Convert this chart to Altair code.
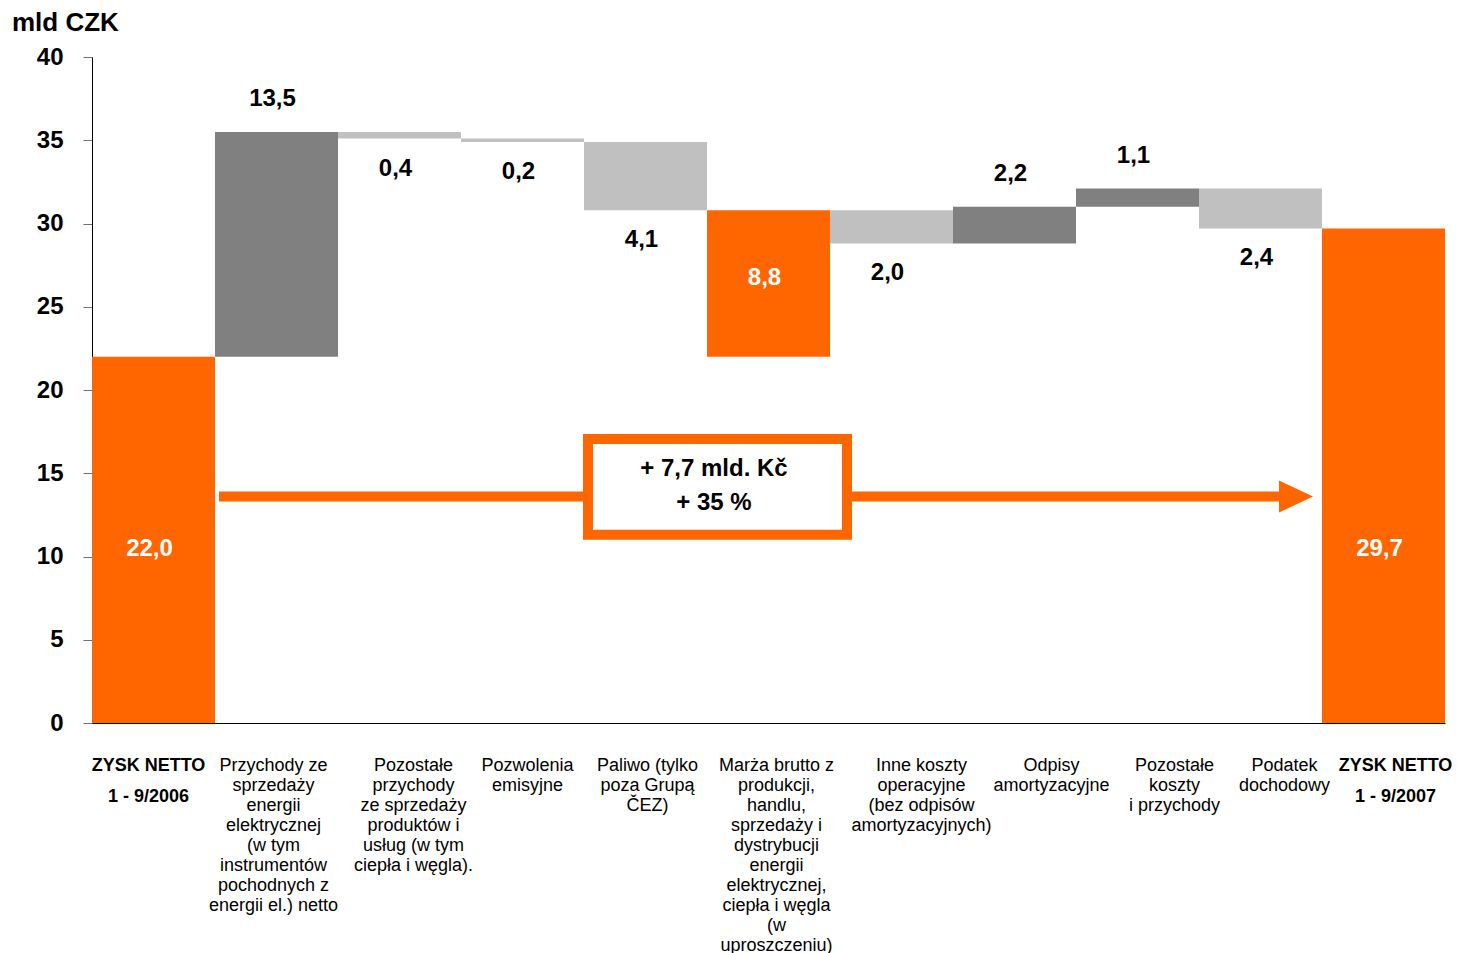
import altair as alt
import pandas as pd

# ---- data ----
categories = ["zn2006", "przychody_ee", "pozostale_przych", "pozwolenia", "paliwo",
              "marza", "inne_koszty", "odpisy", "pozostale_koszty", "podatek", "zn2007"]
label_lines = [
    ["ZYSK NETTO", "1 - 9/2006"],
    ["Przychody ze", "sprzedaży", "energii", "elektrycznej", "(w tym", "instrumentów",
     "pochodnych z", "energii el.) netto"],
    ["Pozostałe", "przychody", "ze sprzedaży", "produktów i", "usług (w tym", "ciepła i węgla)."],
    ["Pozwolenia", "emisyjne"],
    ["Paliwo (tylko", "poza Grupą", "ČEZ)"],
    ["Marża brutto z", "produkcji,", "handlu,", "sprzedaży i", "dystrybucji", "energii",
     "elektrycznej,", "ciepła i węgla", "(w", "uproszczeniu)"],
    ["Inne koszty", "operacyjne", "(bez odpisów", "amortyzacyjnych)"],
    ["Odpisy", "amortyzacyjne"],
    ["Pozostałe", "koszty", "i przychody"],
    ["Podatek", "dochodowy"],
    ["ZYSK NETTO", "1 - 9/2007"],
]
starts = [0.0, 22.0, 35.5, 35.1, 34.9, 22.0, 30.8, 28.8, 31.0, 32.1, 0.0]
ends = [22.0, 35.5, 35.1, 34.9, 30.8, 30.8, 28.8, 31.0, 32.1, 29.7, 29.7]
kinds = ["total", "up", "down", "down", "down", "sub", "down", "up", "up", "down", "total"]
value_labels = ["22,0", "13,5", "0,4", "0,2", "4,1", "8,8", "2,0", "2,2", "1,1", "2,4", "29,7"]

arrow_value = [13.6]
box_top = [17.05]
box_bottom = [11.3]
box_lines = ["+ 7,7 mld. Kč", "+ 35 %"]
y_title = "mld CZK"

# ---- layout / style ----
FONT = "Liberation Sans"
ORANGE = "#FF6600"
DARK = "#808080"
LIGHT = "#C0C0C0"
W, H = 1353, 666
label_dx = [-5, -3, 14, 5, 2, 8, 30, 37, 37, 24, 12]

df = pd.DataFrame({
    "cat": categories,
    "lines": label_lines,
    "start": starts,
    "end": ends,
    "kind": kinds,
    "vlabel": value_labels,
})

x_enc = alt.X("cat:N", sort=categories,
              scale=alt.Scale(paddingInner=0, paddingOuter=0),
              axis=alt.Axis(labels=False, ticks=False, title=None,
                            domainColor="black", domainWidth=1))

base = alt.Chart(df)

bars = base.mark_bar(cornerRadius=0).encode(
    x=x_enc,
    y=alt.Y("start:Q", scale=alt.Scale(domain=[0, 40], nice=False),
            axis=alt.Axis(values=list(range(0, 41, 5)), title=None, grid=False,
                          labelFontSize=24, labelFontWeight="bold", labelColor="black",
                          labelFont=FONT, labelPadding=20, tickSize=9,
                          tickColor="#707070", domainColor="black", domainWidth=1)),
    y2="end:Q",
    color=alt.Color("kind:N", scale=alt.Scale(domain=["total", "sub", "up", "down"],
                                              range=[ORANGE, ORANGE, DARK, LIGHT]),
                    legend=None),
)

vfont = dict(font=FONT, fontSize=24, fontWeight="bold", baseline="middle", dx=-4)
above = base.transform_filter(alt.datum.kind == "up").mark_text(
    color="black", dy=-33, **vfont).encode(x=x_enc, y=alt.Y("end:Q", title=None), text="vlabel:N")
below = base.transform_filter(alt.datum.kind == "down").mark_text(
    color="black", dy=30, **vfont).encode(x=x_enc, y=alt.Y("end:Q", title=None), text="vlabel:N")
totals = base.transform_filter(alt.datum.kind == "total").mark_text(
    color="white", dy=-174, **vfont).encode(x=x_enc, y=alt.Y("start:Q", title=None), text="vlabel:N")
sub = base.transform_filter(alt.datum.kind == "sub").transform_calculate(
    mid="(datum.start + datum.end) / 2").mark_text(
    color="white", dy=-5, **vfont).encode(x=x_enc, y=alt.Y("mid:Q", title=None), text="vlabel:N")

# category labels under the axis
cat_layers = []
for i, c in enumerate(categories):
    bold = kinds[i] == "total"
    cat_layers.append(
        base.transform_filter(alt.datum.cat == c).mark_text(
            font=FONT,
            fontSize=18,
            fontWeight="bold" if bold else "normal",
            lineHeight=31 if bold else 20,
            baseline="alphabetic",
            align="center",
            color="black",
            dx=label_dx[i],
        ).encode(x=x_enc, y=alt.value(713.5), text="lines:N")
    )

# arrow with box
arrow_df = pd.DataFrame({"v": arrow_value})
arrow_line = alt.Chart(arrow_df).mark_rule(color=ORANGE, strokeWidth=10).encode(
    x=alt.value(127), x2=alt.value(1189), y=alt.Y("v:Q", title=None))
arrow_head = alt.Chart(arrow_df).mark_point(
    shape="M-1,-0.94L1,0L-1,0.94Z", size=1156, filled=True, color=ORANGE,
    opacity=1, strokeWidth=0).encode(x=alt.value(1204), y=alt.Y("v:Q", title=None))

box_df = pd.DataFrame({"top": box_top, "bottom": box_bottom,
                       "txt": [box_lines]})
box = alt.Chart(box_df).mark_rect(fill="white", stroke=ORANGE, strokeWidth=10).encode(
    x=alt.value(496), x2=alt.value(755),
    y=alt.Y("top:Q", title=None), y2="bottom:Q")
box_text = alt.Chart(box_df).transform_calculate(
    mid="(datum.top + datum.bottom) / 2").mark_text(
    font=FONT, fontSize=24, fontWeight="bold", lineHeight=34, baseline="middle",
    align="center", color="black", dy=-18).encode(
    x=alt.value(622), y=alt.Y("mid:Q", title=None), text="txt:N")

title_df = pd.DataFrame({"t": [y_title]})
title_text = alt.Chart(title_df).mark_text(
    font=FONT, fontSize=26, fontWeight="bold", align="left", baseline="middle",
    color="black").encode(x=alt.value(-80), y=alt.value(-34), text="t:N")

chart = alt.layer(
    bars, arrow_line, arrow_head, box, box_text,
    above, below, totals, sub, *cat_layers, title_text
).properties(
    width=W, height=H,
    autosize=alt.AutoSizeParams(type="none"),
    padding={"left": 92, "top": 57, "right": 12, "bottom": 230},
    background="white",
).configure(font=FONT).configure_view(stroke=None)

chart.save("out.html", embed_options={"renderer": "svg", "actions": False})
